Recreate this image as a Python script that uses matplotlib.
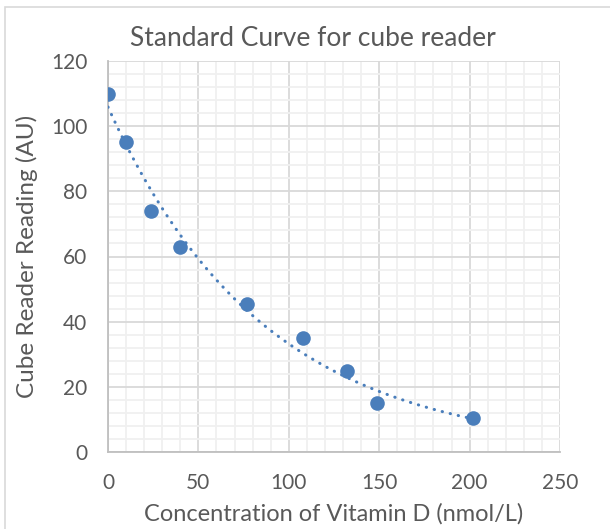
import numpy as np
import matplotlib

matplotlib.use("Agg")
import matplotlib.pyplot as plt
from matplotlib.patches import Rectangle
from matplotlib.ticker import MultipleLocator

# data
concentration = [0, 10, 24, 40, 77, 108, 132, 149, 202]  # nmol/L
reading = [110, 95, 74, 63, 45.5, 35, 25, 15, 10.5]  # AU

# exponential trendline (Excel style: fit on ln y)
b, ln_a = np.polyfit(concentration, np.log(reading), 1)
x_fit = np.linspace(0, max(concentration), 200)
y_fit = np.exp(ln_a) * np.exp(b * x_fit)

plt.rcParams["font.family"] = ["Lato", "DejaVu Sans"]
text_color = "#595959"
point_color = "#4a7ebb"

W, H = 610, 529
fig = plt.figure(figsize=(W / 100, H / 100), dpi=100)
ax = fig.add_axes([108 / W, 1 - 452 / H, 452 / W, 391 / H])

# chart border (only left and top edges fall inside the picture)
fig.patches.append(Rectangle((5 / W, -0.1), 1.1, 1 - 7 / H + 0.1,
                             transform=fig.transFigure, fill=False,
                             edgecolor="#d9d9d9", linewidth=1.2))

ax.plot(x_fit, y_fit, color=point_color, linewidth=2.2,
        linestyle=(0, (0.1, 2.6)), dash_capstyle="round", zorder=3)
ax.plot(concentration, reading, "o", color=point_color, markersize=10.5,
        markeredgewidth=0, zorder=4)

ax.set_xlim(0, 250)
ax.set_ylim(0, 120)
ax.xaxis.set_major_locator(MultipleLocator(50))
ax.xaxis.set_minor_locator(MultipleLocator(10))
ax.yaxis.set_major_locator(MultipleLocator(20))
ax.yaxis.set_minor_locator(MultipleLocator(4))
ax.grid(which="major", color="#d9d9d9", linewidth=1.3)
ax.grid(which="minor", color="#f0f0f0", linewidth=1.3)
ax.set_axisbelow(True)

for side in ["top", "right"]:
    ax.spines[side].set_visible(False)
for side in ["left", "bottom"]:
    ax.spines[side].set_color("#bfbfbf")
    ax.spines[side].set_linewidth(1.3)

ax.tick_params(which="both", length=0, labelsize=15, labelcolor=text_color)
ax.tick_params(axis="x", pad=15)
ax.tick_params(axis="y", pad=15)

fig.text(313 / W, 1 - 39 / H, "Standard Curve for cube reader", fontsize=19,
         color=text_color, ha="center", va="center")
fig.text(334 / W, 1 - 514 / H, "Concentration of Vitamin D (nmol/L)", fontsize=17,
         color=text_color, ha="center", va="center")
fig.text(27 / W, 1 - 256 / H, "Cube Reader Reading (AU)", fontsize=17.5,
         color=text_color, ha="center", va="center", rotation=90)

fig.savefig("out.png", dpi=100)
